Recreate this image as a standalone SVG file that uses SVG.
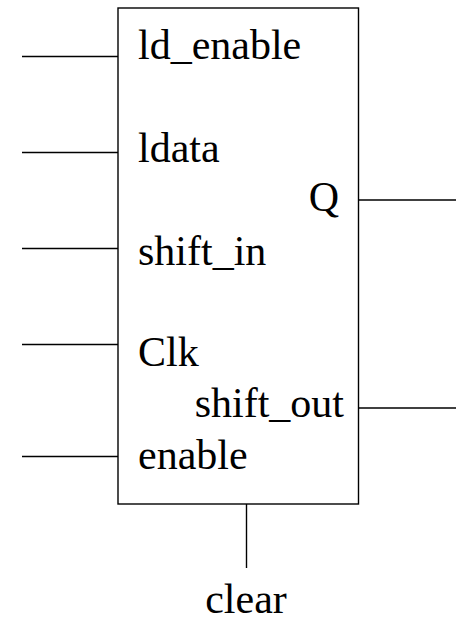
<svg xmlns="http://www.w3.org/2000/svg" width="457" height="622" viewBox="0 0 457 622">
<style>
.w{stroke:#000;stroke-width:1.4;fill:none}
text{font-family:"Liberation Serif","Times New Roman",serif;font-size:42px;fill:#000}
</style>
<rect width="457" height="622" fill="#fff"/>
<g id="block">
<rect class="w" x="118" y="8" width="240.5" height="496"/>
<text x="138" y="59">ld_enable</text>
<text x="138" y="162">ldata</text>
<text x="138" y="265">shift_in</text>
<text x="138" y="366">Clk</text>
<text x="138" y="469">enable</text>
<text x="339" y="211" text-anchor="end">Q</text>
<text x="344" y="417" text-anchor="end">shift_out</text>
</g>
<g id="clear-label">
<text x="246" y="613" text-anchor="middle">clear</text>
</g>
<g id="connectors">
<line class="w" x1="22" y1="56.5" x2="118" y2="56.5"/>
<line class="w" x1="22" y1="152.5" x2="118" y2="152.5"/>
<line class="w" x1="22" y1="248.5" x2="118" y2="248.5"/>
<line class="w" x1="22" y1="344.5" x2="118" y2="344.5"/>
<line class="w" x1="22" y1="456.5" x2="118" y2="456.5"/>
<line class="w" x1="358.5" y1="200" x2="456" y2="200"/>
<line class="w" x1="358.5" y1="408" x2="456" y2="408"/>
<line class="w" x1="246.5" y1="504" x2="246.5" y2="568"/>
</g>
</svg>
